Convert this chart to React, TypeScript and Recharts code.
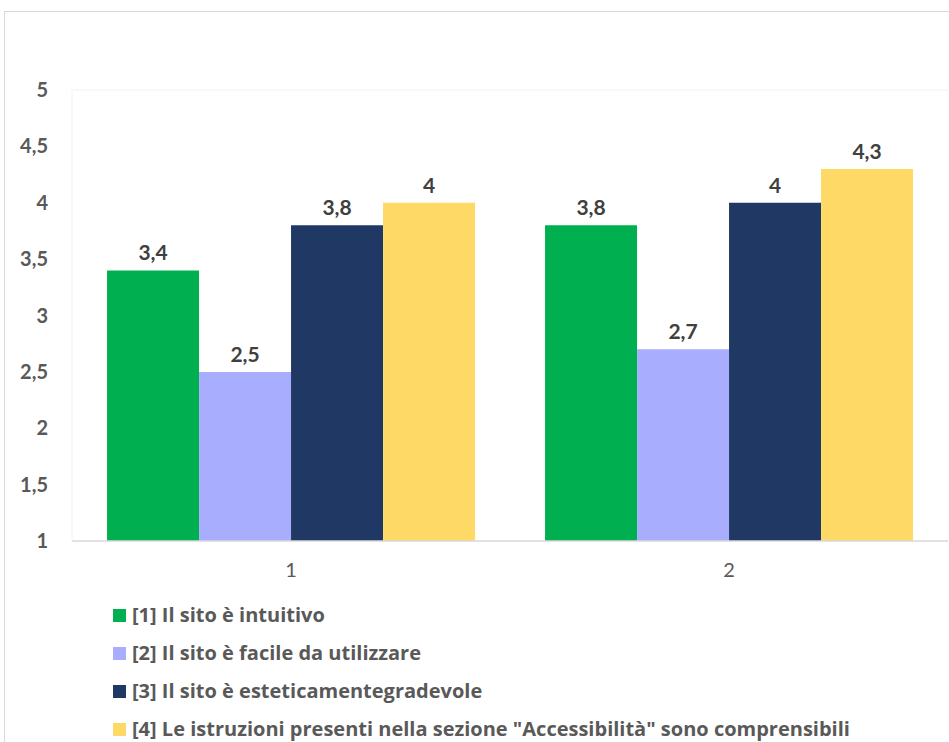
import { BarChart, Bar, XAxis, YAxis, LabelList, Legend, ReferenceLine } from 'recharts';

const categories = ['1', '2'];
const intuitivo = [3.4, 3.8];
const facile = [2.5, 2.7];
const gradevole = [3.8, 4];
const istruzioni = [4, 4.3];
const yTicks = [1, 1.5, 2, 2.5, 3, 3.5, 4, 4.5, 5];

const series = [
  { key: 'intuitivo', name: '[1] Il sito è intuitivo', color: '#00B050' },
  { key: 'facile', name: '[2] Il sito è facile da utilizzare', color: '#A9ADFE' },
  { key: 'gradevole', name: '[3] Il sito è esteticamentegradevole', color: '#203864' },
  { key: 'istruzioni', name: '[4] Le istruzioni presenti nella sezione "Accessibilità" sono comprensibili', color: '#FFD966' },
];

const data = categories.map((c, i) => ({
  cat: c,
  intuitivo: intuitivo[i],
  facile: facile[i],
  gradevole: gradevole[i],
  istruzioni: istruzioni[i],
}));

const FONT = 'Lato, "Open Sans", sans-serif';
const comma = (v: any) => String(v).replace('.', ',');

const LegendList = () => (
  <div style={{ paddingLeft: 108, fontFamily: '"Open Sans", Lato, sans-serif' }}>
    {series.map((s) => (
      <div key={s.key} style={{ height: 38, display: 'flex', alignItems: 'center' }}>
        <span style={{ width: 13, height: 13, background: s.color, marginRight: 6, display: 'inline-block' }} />
        <span style={{ fontSize: 20, lineHeight: '22px', fontWeight: 700, color: '#595959', whiteSpace: 'nowrap' }}>
          {s.name}
        </span>
      </div>
    ))}
  </div>
);

export default function App() {
  return (
    <div
      style={{
        position: 'absolute',
        left: 4,
        top: 11,
        width: 960,
        height: 730,
        borderLeft: '1px solid #d9d9d9',
        borderTop: '1px solid #d9d9d9',
        background: '#fff',
      }}
    >
      <BarChart
        width={945}
        height={730}
        data={data}
        margin={{ top: 78, right: 2, left: 0, bottom: 0 }}
        barCategoryGap="8%"
        barGap={0}
        style={{ fontFamily: FONT }}
      >
        <XAxis
          dataKey="cat"
          height={49}
          tickLine={false}
          axisLine={{ stroke: '#d9d9d9', strokeWidth: 1.5 }}
          tick={{ fill: '#595959', fontSize: 20 }}
          tickMargin={16}
        />
        <YAxis
          width={67}
          domain={[1, 5]}
          ticks={yTicks}
          interval={0}
          tickLine={false}
          axisLine={{ stroke: '#f2f2f2' }}
          tick={{ fill: '#595959', fontSize: 20, fontWeight: 700 }}
          tickMargin={18}
          tickFormatter={comma}
        />
        <ReferenceLine y={5} stroke="#f2f2f2" />
        <Legend
          verticalAlign="bottom"
          align="left"
          wrapperStyle={{ top: 584, left: 0 }}
          content={() => <LegendList />}
        />
        {series.map((s) => (
          <Bar key={s.key} dataKey={s.key} name={s.name} fill={s.color} isAnimationActive={false}>
            <LabelList
              dataKey={s.key}
              position="top"
              offset={10}
              formatter={comma}
              style={{ fill: '#404040', fontSize: 21, fontWeight: 700, fontFamily: FONT }}
            />
          </Bar>
        ))}
      </BarChart>
    </div>
  );
}
